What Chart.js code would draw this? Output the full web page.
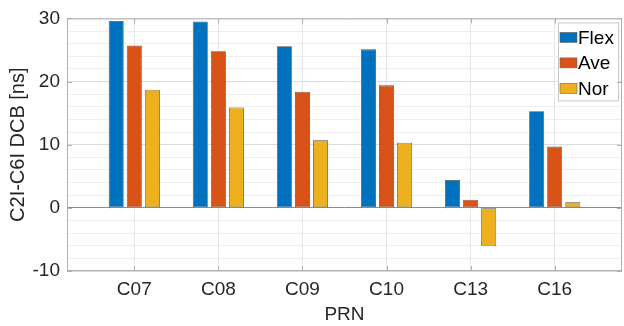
<!DOCTYPE html>
<html>
<head>
<meta charset="utf-8">
<script src="https://cdn.jsdelivr.net/npm/chart.js@4/dist/chart.umd.min.js"></script>
<style>
	html, body { margin: 0; padding: 0; background: #fff; }
	#wrap { width: 624px; height: 326px; }
</style>
</head>
<body>
<div id="wrap"><canvas id="barChart"></canvas></div>
<script>
// DCB values per satellite
const prn = ['C07', 'C08', 'C09', 'C10', 'C13', 'C16'];
const flex = [29.6, 29.5, 25.6, 25.1, 4.4, 15.3];
const ave = [25.7, 24.8, 18.4, 19.4, 1.3, 9.7];
const nor = [18.7, 15.9, 10.7, 10.3, -6.1, 0.9];
const yTicks = [-10, 0, 10, 20, 30];

const textColor = '#262626';
const fontFamily = '"Liberation Sans", Arial, sans-serif';

function toPoints(values)
{
	return values.map((v, i) => ({ x: i + 1, y: v }));
}

// legend box inside the plot, top right
const boxLegend = {
	id: 'boxLegend',
	afterDatasetsDraw(chart)
	{
		const ctx = chart.ctx;
		const area = chart.chartArea;
		const w = 60, h = 78;
		const left = area.right - w - 4;
		const top = area.top + 4;
		ctx.save();
		ctx.fillStyle = '#fff';
		ctx.fillRect(left, top, w, h);
		ctx.strokeStyle = '#c8c8c8';
		ctx.lineWidth = 1;
		ctx.strokeRect(left + 0.5, top + 0.5, w, h);
		ctx.font = '19px ' + fontFamily;
		ctx.textBaseline = 'middle';
		chart.data.datasets.forEach((ds, i) => {
			const cy = top + 15 + i * 25.5;
			ctx.fillStyle = ds.backgroundColor;
			ctx.fillRect(left + 2, cy - 5, 17, 10);
			ctx.strokeStyle = '#666';
			ctx.lineWidth = 0.6;
			ctx.strokeRect(left + 2, cy - 5, 17, 10);
			ctx.fillStyle = '#000';
			ctx.fillText(ds.label, left + 20, cy + 1);
		});
		ctx.restore();
	}
};

// inward tick marks on all four sides
const innerTicks = {
	id: 'innerTicks',
	afterDraw(chart)
	{
		const ctx = chart.ctx;
		const area = chart.chartArea;
		const xs = chart.scales.x;
		const ys = chart.scales.y;
		const len = 5;
		ctx.save();
		ctx.strokeStyle = '#b0b0b0';
		ctx.lineWidth = 1;
		ctx.beginPath();
		prn.forEach((p, i) => {
			const px = Math.round(xs.getPixelForValue(i + 1)) + 0.5;
			ctx.moveTo(px, area.bottom);
			ctx.lineTo(px, area.bottom - len);
			ctx.moveTo(px, area.top);
			ctx.lineTo(px, area.top + len);
		});
		yTicks.forEach(v => {
			const py = Math.round(ys.getPixelForValue(v)) + 0.5;
			ctx.moveTo(area.left, py);
			ctx.lineTo(area.left + len, py);
			ctx.moveTo(area.right, py);
			ctx.lineTo(area.right - len, py);
		});
		ctx.stroke();
		ctx.strokeRect(area.left + 0.5, area.top + 0.5, area.right - area.left - 1, area.bottom - area.top - 1);
		ctx.restore();
	}
};

const chart = new Chart(document.getElementById('barChart'), {
	type: 'bar',
	data: {
		datasets: [
			{ label: 'Flex', data: toPoints(flex), backgroundColor: '#0072BD' },
			{ label: 'Ave', data: toPoints(ave), backgroundColor: '#D95319' },
			{ label: 'Nor', data: toPoints(nor), backgroundColor: '#EDB120' }
		]
	},
	options: {
		responsive: true,
		maintainAspectRatio: false,
		animation: false,
		datasets: {
			bar: {
				categoryPercentage: 0.645,
				barPercentage: 0.83,
				borderColor: '#4d4d4d',
				borderWidth: 0.8,
				borderSkipped: false
			}
		},
		layout: { padding: { top: 18, right: 2, left: 0, bottom: 0 } },
		plugins: {
			legend: { display: false },
			tooltip: { enabled: false }
		},
		scales: {
			x: {
				type: 'linear',
				min: 0.2,
				max: 6.8,
				offset: false,
				afterBuildTicks: (scale) => { scale.ticks = prn.map((p, i) => ({ value: i + 1 })); },
				afterFit: (scale) => { scale.height = 55; },
				ticks: {
					autoSkip: false,
					maxRotation: 0,
					padding: 7,
					color: textColor,
					font: { family: fontFamily, size: 19 },
					callback: (v) => prn[v - 1]
				},
				grid: { color: '#e6e6e6', drawTicks: false, offset: false },
				border: { display: false },
				title: {
					display: true,
					text: 'PRN',
					color: textColor,
					font: { family: fontFamily, size: 19 },
					padding: { top: 2, bottom: 0 }
				}
			},
			y: {
				min: -10,
				max: 30,
				afterBuildTicks: (scale) => {
					const t = [];
					for (let v = -10; v <= 30; v += 2) t.push({ value: v });
					scale.ticks = t;
				},
				afterFit: (scale) => { scale.width = 67; },
				ticks: {
					autoSkip: false,
					padding: 7,
					color: textColor,
					font: { family: fontFamily, size: 19 },
					callback: (v) => (yTicks.includes(v) ? v : '')
				},
				grid: {
					drawTicks: false,
					color: (c) => {
						const v = c.tick ? c.tick.value : null;
						if (v === 0) return '#8c8c8c';
						return (v % 10 === 0) ? '#dcdcdc' : '#efefef';
					}
				},
				border: { display: false },
				title: {
					display: true,
					text: 'C2I-C6I DCB [ns]',
					color: textColor,
					font: { family: fontFamily, size: 20 },
					padding: { top: 6, bottom: 0 }
				}
			}
		}
	},
	plugins: [boxLegend, innerTicks]
});
</script>
</body>
</html>
